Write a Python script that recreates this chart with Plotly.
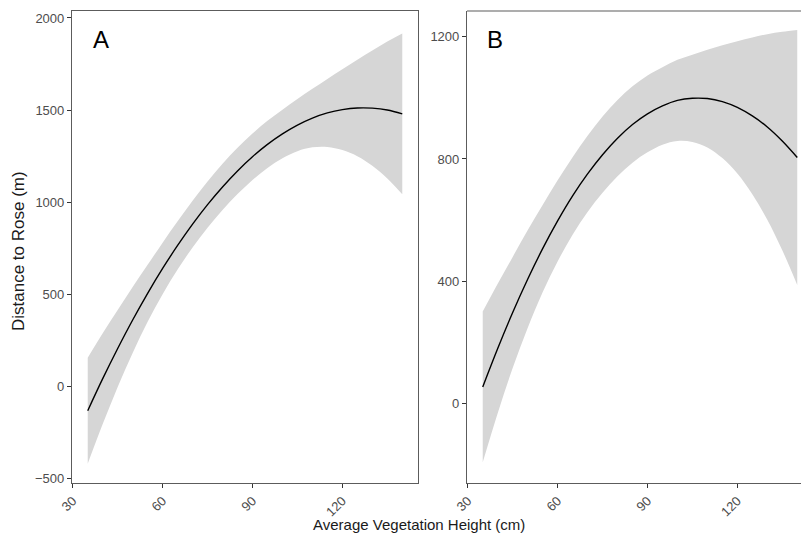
import plotly.graph_objects as go

# Average vegetation height (cm) at which the fitted curves are evaluated
height_cm = [35, 40, 45, 50, 55, 60, 65, 70, 75, 80, 85, 90, 95, 100,
             105, 110, 115, 120, 125, 130, 135, 140]

# Panel A: fitted distance to rose (m) and half-width of the confidence band
fit_a = [-134, 40, 204, 359, 504, 639, 764, 880, 986, 1082, 1169, 1246, 1313, 1370,
         1418, 1456, 1484, 1502, 1511, 1510, 1500, 1479]
half_a = [288, 247, 209, 179, 155, 140, 131, 127, 126, 126, 126, 126, 128, 132,
          142, 159, 185, 220, 262, 313, 372, 437]

# Panel B: fitted distance to rose (m) and half-width of the confidence band
fit_b = [53, 179, 297, 406, 506, 597, 679, 751, 814, 868, 913, 948, 974, 992,
         999, 998, 988, 969, 941, 905, 859, 805]
half_b = [247, 212, 182, 160, 143, 133, 127, 125, 125, 125, 125, 126, 127, 133,
          143, 160, 185, 217, 257, 304, 358, 418]

yticks_a = [-500, 0, 500, 1000, 1500, 2000]
yticks_b = [0, 400, 800, 1200]
xticks = [30, 60, 90, 120]

W, H = 801, 544
BAND = "#d6d6d6"
AXIS = "#5c5c5c"
FAMILY = "Liberation Sans, Arial, sans-serif"
TICKFONT = dict(family=FAMILY, size=13, color="#4d4d4d")

fig = go.Figure()


def add_panel(fit, half, xa, ya):
    lower = [f - h for f, h in zip(fit, half)]
    upper = [f + h for f, h in zip(fit, half)]
    fig.add_trace(go.Scatter(x=height_cm, y=lower, mode="lines", line=dict(width=0, shape="spline"),
                             xaxis=xa, yaxis=ya, showlegend=False, hoverinfo="skip"))
    fig.add_trace(go.Scatter(x=height_cm, y=upper, mode="lines", line=dict(width=0, shape="spline"),
                             fill="tonexty", fillcolor=BAND,
                             xaxis=xa, yaxis=ya, showlegend=False, hoverinfo="skip"))
    fig.add_trace(go.Scatter(x=height_cm, y=fit, mode="lines",
                             line=dict(color="black", width=1.4, shape="spline"),
                             xaxis=xa, yaxis=ya, showlegend=False))


add_panel(fit_a, half_a, "x", "y")
add_panel(fit_b, half_b, "x2", "y2")

ydom = [1 - 483 / H, 1 - 11 / H]
common_axis = dict(showgrid=False, zeroline=False, showline=True, linecolor=AXIS, linewidth=1.2,
                   ticks="outside", ticklen=4, tickwidth=1, tickcolor="#333333",
                   tickfont=TICKFONT, automargin=False)

fig.update_layout(
    width=W, height=H,
    margin=dict(l=0, r=0, t=0, b=0, pad=0, autoexpand=False),
    paper_bgcolor="white", plot_bgcolor="white",
    xaxis=dict(domain=[72 / W, 418 / W], range=[29.75, 145.25], tickvals=xticks,
               tickangle=-45, mirror=True, anchor="y", **common_axis),
    yaxis=dict(domain=ydom, range=[-527, 2038], tickvals=yticks_a, mirror=True,
               anchor="x", **common_axis),
    xaxis2=dict(domain=[467 / W, 1.0], range=[29.75, 141.25], tickvals=xticks,
                tickangle=-45, anchor="y2", **common_axis),
    yaxis2=dict(domain=ydom, range=[-262, 1285], tickvals=yticks_b, anchor="x2",
                **common_axis),
)

# top border of panel B (its right edge runs past the page)
fig.add_shape(type="line", xref="paper", yref="paper", x0=467 / W, x1=1.0,
              y0=ydom[1], y1=ydom[1], line=dict(color=AXIS, width=1.2))

fig.add_annotation(text="Average Vegetation Height (cm)", xref="paper", yref="paper",
                   x=419 / W, y=1 - 524 / H, showarrow=False,
                   font=dict(family=FAMILY, size=15, color="#1a1a1a"),
                   xanchor="center", yanchor="middle")
fig.add_annotation(text="Distance to Rose (m)", xref="paper", yref="paper",
                   x=18 / W, y=1 - 251 / H, showarrow=False,
                   font=dict(family=FAMILY, size=17, color="#1a1a1a"), textangle=-90,
                   xanchor="center", yanchor="middle")

LETTER = dict(family=FAMILY, size=24, color="black")
fig.add_annotation(text="A", xref="paper", yref="paper", x=101 / W, y=1 - 40 / H,
                   showarrow=False, font=LETTER, xanchor="center", yanchor="middle")
fig.add_annotation(text="B", xref="paper", yref="paper", x=495 / W, y=1 - 40 / H,
                   showarrow=False, font=LETTER, xanchor="center", yanchor="middle")

fig.write_html("out.html")
